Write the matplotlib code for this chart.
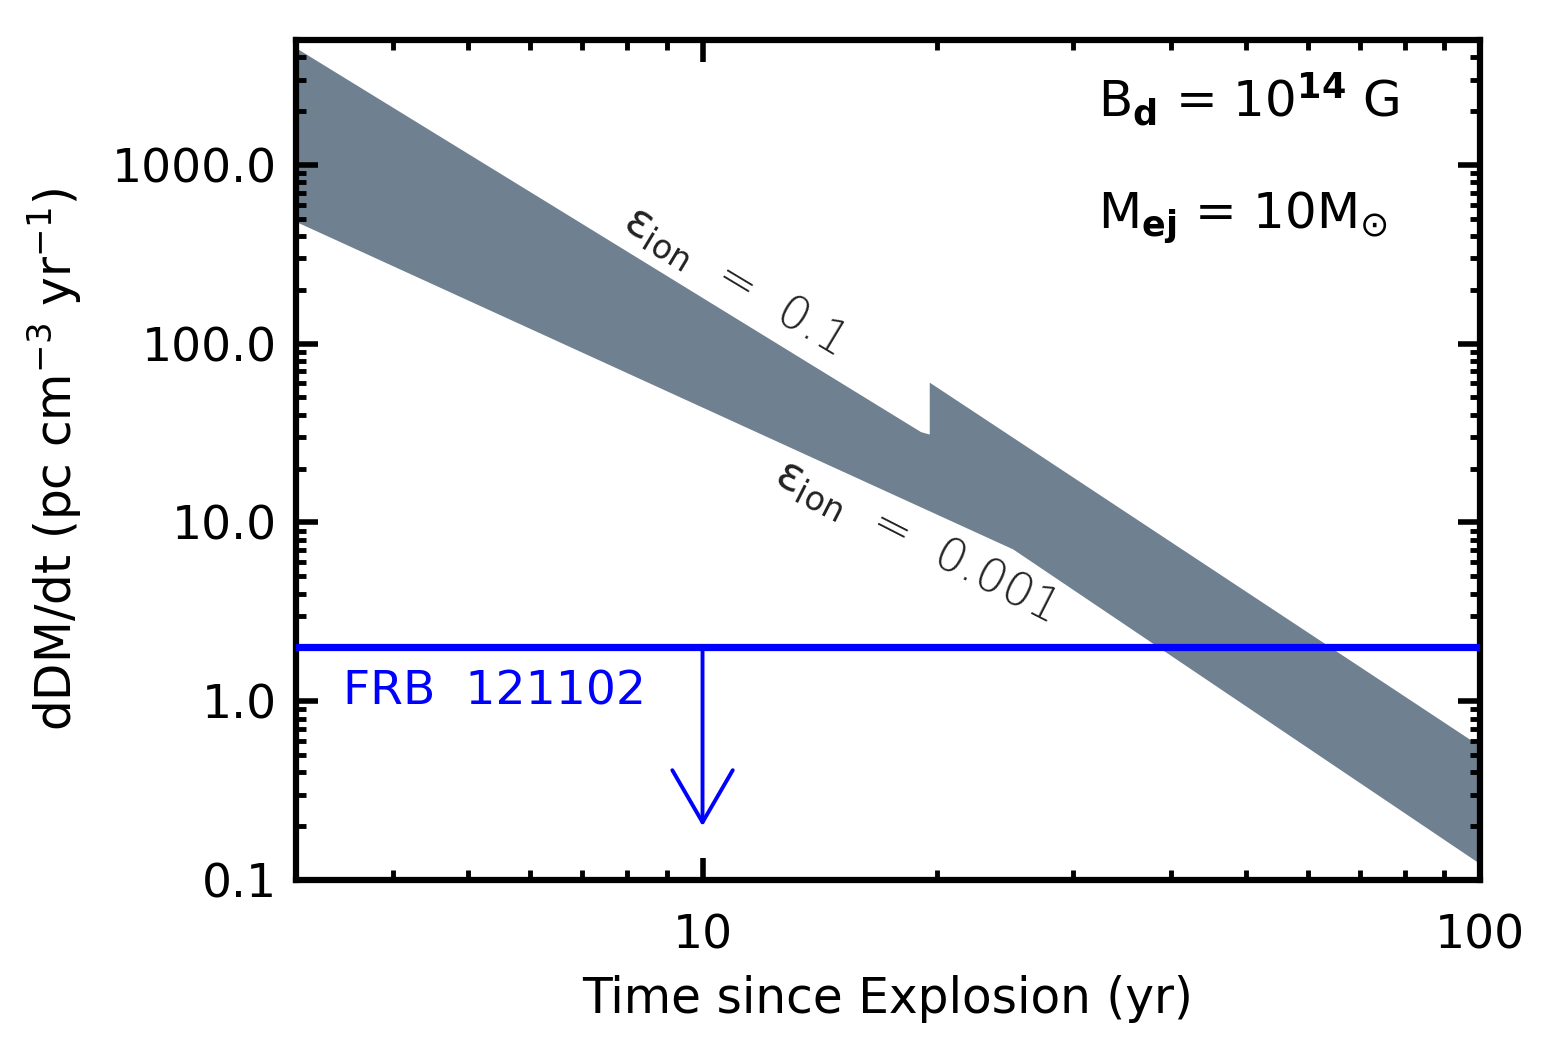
import numpy as np
import matplotlib
matplotlib.use("Agg")
import matplotlib.pyplot as plt
from matplotlib.ticker import FixedLocator, FixedFormatter, LogLocator, NullFormatter

# band edges
upper_t = [3.0, 19.1, 19.6, 19.6, 100.0]
upper_dm = [4500.0, 32.0, 31.0, 60.5, 0.56]
lower_t = [3.0, 25.1, 100.0]
lower_dm = [480.0, 7.06, 0.123]

frb_limit = 2.0
frb_arrow_t = 10.0
frb_arrow_end = 0.2

y_ticks = [0.1, 1.0, 10.0, 100.0, 1000.0]
y_ticklabels = ["0.1", "1.0", "10.0", "100.0", "1000.0"]
x_ticks = [10, 100]
x_ticklabels = ["10", "100"]

plt.rcParams["font.family"] = ["DejaVu Sans"]
plt.rcParams["mathtext.fontset"] = "dejavusans"

fig = plt.figure(figsize=(15.53, 10.55), dpi=100)
ax = fig.add_axes([0.1906, 0.1659, 0.7624, 0.7963])
ax.set_xscale("log")
ax.set_yscale("log")
ax.set_xlim(3, 100)
ax.set_ylim(0.1, 5000)

poly_t = upper_t + lower_t[::-1]
poly_dm = upper_dm + lower_dm[::-1]
ax.fill(poly_t, poly_dm, color="#6f8090", lw=0, zorder=1)

ax.axhline(frb_limit, color="#0000ff", lw=5.2, zorder=3)
ax.annotate("", xy=(frb_arrow_t, frb_arrow_end), xytext=(frb_arrow_t, frb_limit),
            arrowprops=dict(arrowstyle="->,head_length=2.5,head_width=1.45", color="#0000ff",
                            lw=2.8, shrinkA=0, shrinkB=0, mutation_scale=15), zorder=3)
ax.text(3.45, 1.12, "FRB  121102", color="#0000ff", fontsize=34, va="center", ha="left")

ax.text(11.0, 228, r"$\mathrm{\epsilon}_{\mathrm{ion}}$  =  0.1", fontsize=34, color="#222222",
        rotation=-31, ha="center", va="center", rotation_mode="anchor", fontweight="light")
ax.text(18.8, 8.0, r"$\mathrm{\epsilon}_{\mathrm{ion}}$  =  0.001", fontsize=34, color="#222222",
        rotation=-27, ha="center", va="center", rotation_mode="anchor", fontweight="light")

ax.text(0.677, 0.929, r"B$_{\mathbf{d}}$ = 10$^{\mathbf{14}}$ G", transform=ax.transAxes,
        fontsize=36, ha="left", va="center")
ax.text(0.677, 0.788, r"M$_{\mathbf{ej}}$ = 10M$_{\odot}$", transform=ax.transAxes,
        fontsize=36, ha="left", va="center")

ax.yaxis.set_major_locator(FixedLocator(y_ticks))
ax.yaxis.set_major_formatter(FixedFormatter(y_ticklabels))
ax.xaxis.set_major_locator(FixedLocator(x_ticks))
ax.xaxis.set_major_formatter(FixedFormatter(x_ticklabels))
ax.xaxis.set_minor_locator(LogLocator(base=10, subs=np.arange(2, 10)))
ax.yaxis.set_minor_locator(LogLocator(base=10, subs=np.arange(2, 10)))
ax.xaxis.set_minor_formatter(NullFormatter())
ax.yaxis.set_minor_formatter(NullFormatter())

ax.tick_params(which="both", direction="in", top=True, right=True, labelsize=34)
ax.tick_params(which="major", length=16, width=4)
ax.tick_params(which="minor", length=7, width=3.5)
ax.tick_params(axis="y", which="major", pad=14)
ax.tick_params(axis="x", which="major", pad=24)
for s in ax.spines.values():
    s.set_linewidth(4.5)

ax.set_xlabel("Time since Explosion (yr)", fontsize=35, labelpad=12)
ax.set_ylabel(r"dDM/dt (pc cm$^{-3}$ yr$^{-1}$)", fontsize=35, labelpad=20)

fig.savefig("out.png", dpi=100)
